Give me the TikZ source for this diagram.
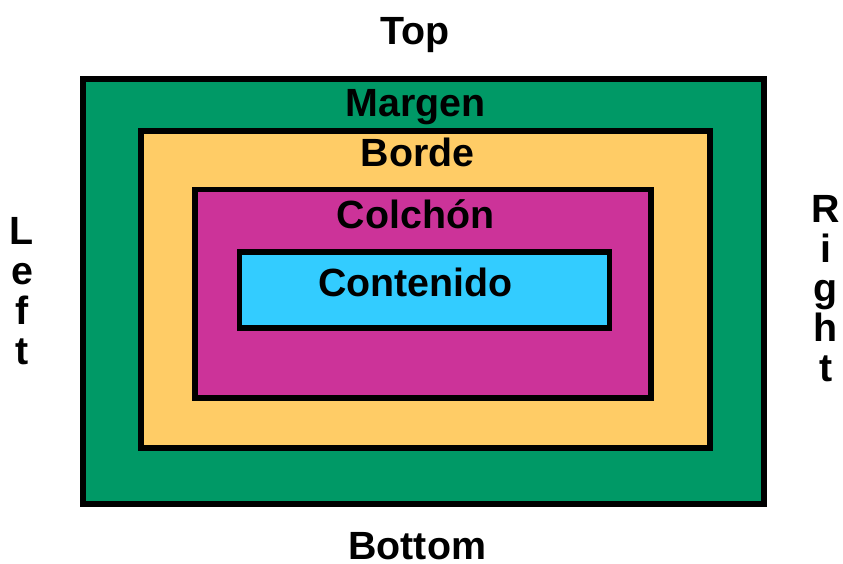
\documentclass[tikz,border=0pt]{standalone}
\usepackage{xcolor}
\usepackage{fontspec}
\setmainfont{Liberation Sans}
\usepackage{tikz}
\usetikzlibrary{positioning}

\definecolor{margencol}{HTML}{009966}
\definecolor{bordecol}{HTML}{FFCC66}
\definecolor{colchoncol}{HTML}{CC3399}
\definecolor{contenidocol}{HTML}{33CCFF}

\begin{document}
\begin{tikzpicture}[
    layer/.style={draw, line width=3.9pt, inner sep=0pt, outer sep=0pt},
    lbl/.style={font=\bfseries\fontsize{28}{28.4}\selectfont, inner sep=0pt, anchor=base},
    side/.style={lbl, align=center},
]
    \useasboundingbox (0,0) rectangle (21.075,14.075);

    % nested boxes
    \node[layer, fill=margencol, minimum width=17.025cm, minimum height=10.625cm] (margen) at (10.5875,6.7875) {};
    \node[layer, fill=bordecol, minimum width=14.225cm, minimum height=7.925cm] (borde) at (10.6375,6.8375) {};
    \node[layer, fill=colchoncol, minimum width=11.4cm, minimum height=5.2125cm] (colchon) at (10.575,6.73125) {};
    \node[layer, fill=contenidocol, minimum width=9.25cm, minimum height=1.9cm] (contenido) at (10.6125,6.825) {};

    % labels
    \node[lbl] (tmargen) at (10.3875,11.15) {Margen};
    \node[lbl] (tborde) at (10.445,9.91) {Borde};
    \node[lbl] (tcolchon) at (10.39,8.37) {Colchón};
    \node[lbl] (tcontenido) at (10.3825,6.66) {Contenido};

    % sides
    \node[lbl] (top) at (10.375,12.95) {Top};
    \node[lbl, text depth=0pt] (bottom) at (10.43,0.08) {Bottom};
    \node[side] (left) at (0.55,4.97) {L\\e\\f\\t};
    \node[side] (right) at (20.65,4.53) {R\\i\\g\\h\\t};
\end{tikzpicture}
\end{document}
